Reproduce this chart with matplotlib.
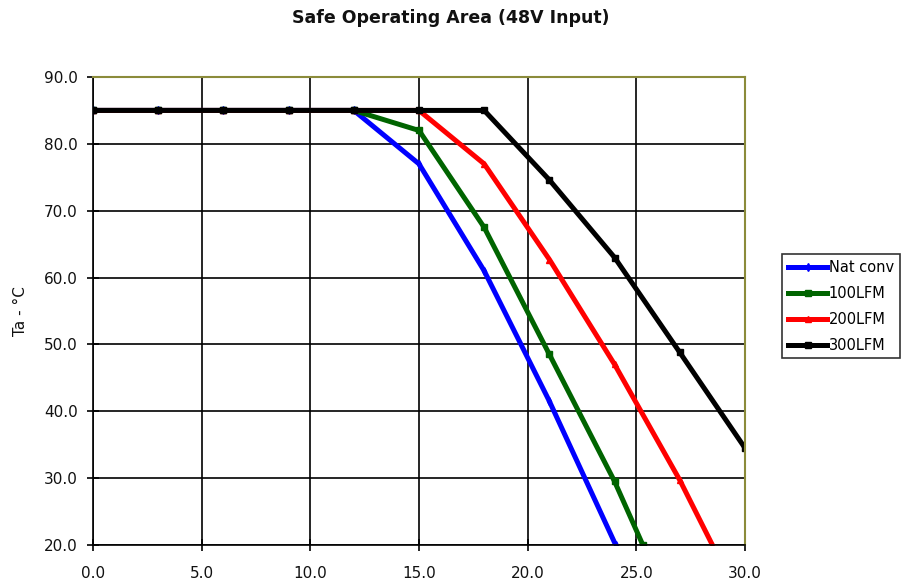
import matplotlib
matplotlib.use("Agg")
import matplotlib.pyplot as plt
from matplotlib.ticker import FormatStrFormatter

plt.rcParams['font.family'] = ['DejaVu Sans']

x_nat = [0, 3, 6, 9, 12, 15, 18, 21, 24.05]
y_nat = [85, 85, 85, 85, 85, 77, 61, 41.5, 20]

x_100 = [0, 3, 6, 9, 12, 15, 18, 21, 24, 25.3]
y_100 = [85, 85, 85, 85, 85, 82, 67.5, 48.5, 29.5, 20]

x_200 = [0, 3, 6, 9, 12, 15, 18, 21, 24, 27, 28.5]
y_200 = [85, 85, 85, 85, 85, 85, 77, 62.7, 47, 29.7, 20]

x_300 = [0, 3, 6, 9, 12, 15, 18, 21, 24, 27, 30]
y_300 = [85, 85, 85, 85, 85, 85, 85, 74.6, 63, 48.8, 34.5]

labels = ['Nat conv', '100LFM', '200LFM', '300LFM']
colors = ['#0000FF', '#006400', '#FF0000', '#000000']
markers = ['d', 's', '^', 's']

fig = plt.figure(figsize=(9.03, 5.83), dpi=100)
ax = fig.add_axes([93/903, 1-545/583, (745-93)/903, (545-77)/583])

series = [(x_nat, y_nat), (x_100, y_100), (x_200, y_200), (x_300, y_300)]
for (xs, ys), lab, c, m in zip(series, labels, colors, markers):
    ax.plot(xs, ys, color=c, lw=3.6, marker=m, ms=4, label=lab, solid_joinstyle='miter')

ax.set_xlim(0, 30)
ax.set_ylim(20, 90)
ax.set_xticks([0, 5, 10, 15, 20, 25, 30])
ax.set_yticks([20, 30, 40, 50, 60, 70, 80, 90])
ax.xaxis.set_major_formatter(FormatStrFormatter('%.1f'))
ax.yaxis.set_major_formatter(FormatStrFormatter('%.1f'))
ax.grid(True, color='black', lw=1.2)
ax.set_axisbelow(True)
ax.tick_params(direction='inout', length=8, width=1.2, labelsize=11,
               labelcolor='#111111')
ax.tick_params(axis='x', pad=11)
ax.tick_params(axis='y', pad=7)
for s in ['top', 'right']:
    ax.spines[s].set_color('#8B8B3A')
    ax.spines[s].set_linewidth(1.5)
for s in ['left', 'bottom']:
    ax.spines[s].set_color('black')
    ax.spines[s].set_linewidth(1.2)

ax.set_ylabel('Ta - °C', fontsize=11, color='#111111')
ax.yaxis.set_label_coords(-0.1, 0.5)
fig.text(451/903, 1-18/583, 'Safe Operating Area (48V Input)', ha='center', va='center',
         fontsize=12.5, fontweight='bold', color='#111111')

leg = fig.legend(loc='upper left', bbox_to_anchor=(782/903, 1-254/583), fontsize=10.5,
                 frameon=True, fancybox=False, edgecolor='black', handlelength=2.7,
                 handletextpad=0.1, borderpad=0.4, labelspacing=0.75, borderaxespad=0)
leg.get_frame().set_linewidth(1.2)

fig.savefig('out.png', dpi=100, facecolor='white')
